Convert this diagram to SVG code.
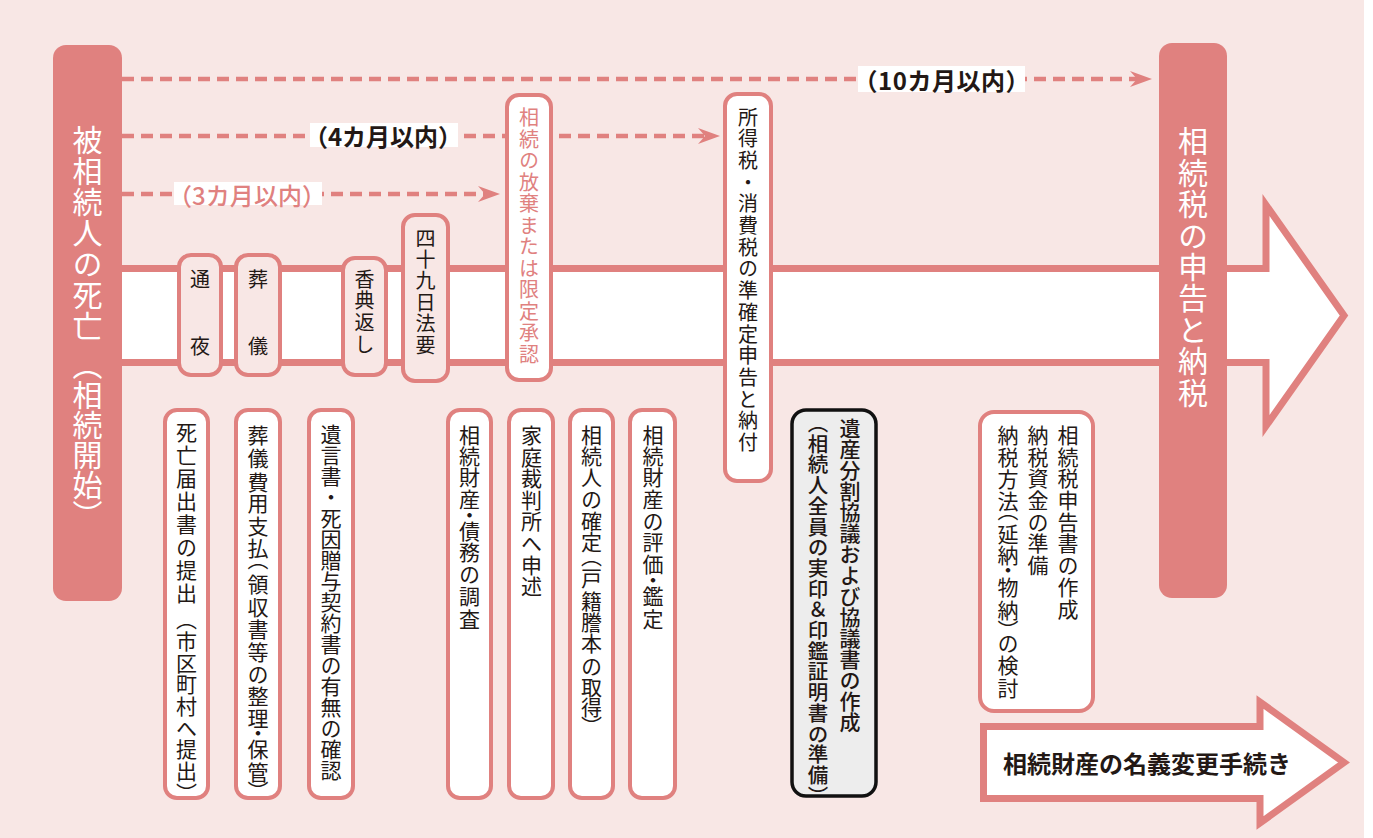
<svg xmlns="http://www.w3.org/2000/svg" width="1373" height="838" viewBox="0 0 1373 838">
<defs>
<style>
.bg{fill:#F8E7E5}
.pill{fill:#E0817F}
.band{fill:#FFFFFF;stroke:#E0817F;stroke-width:7;stroke-linejoin:miter}
.sbox{fill:#F8E7E5;stroke:#E0817F;stroke-width:4}
.wbox{fill:#FFFFFF;stroke:#E0817F;stroke-width:4}
.gbox{fill:#EDEDED;stroke:#111111;stroke-width:3.5}
.dash{fill:none;stroke:#E0817F;stroke-width:4.5;stroke-dasharray:12 7}
.lbl{fill:#FFFFFF}
.v{writing-mode:vertical-rl;font-family:"Noto Sans CJK JP","Noto Sans CJK SC",sans-serif;fill:#231815}
.h{font-family:"Noto Sans CJK JP","Noto Sans CJK SC",sans-serif;fill:#231815}
.wt{fill:#FFFFFF}
.pk{fill:#E0817F}
</style>
<marker id="ah" viewBox="0 0 22 16" refX="7" refY="8" markerWidth="22" markerHeight="16" markerUnits="userSpaceOnUse" orient="auto">
<path d="M0,0 L22,8 L0,16 L7,8 Z" fill="#E0817F"/>
</marker>
</defs>
<rect class="bg" x="0" y="0" width="1364" height="838"/>

<g id="timeline">
<path class="band" d="M100,268.5 H1266 V205 L1344,315.5 L1266,426 V362.5 H100 Z"/>
</g>

<g id="connectors">
<line class="dash" x1="122" y1="79" x2="1137" y2="79" marker-end="url(#ah)"/>
<line class="dash" x1="122" y1="136" x2="705" y2="136" marker-end="url(#ah)"/>
<line class="dash" x1="122" y1="194" x2="485" y2="194" marker-end="url(#ah)"/>
<rect class="lbl" x="858" y="66" width="167" height="26"/>
<text class="h" x="941.5" y="79" font-size="24" font-weight="bold" text-anchor="middle" dominant-baseline="central" textLength="176" lengthAdjust="spacing">（10カ月以内）</text>
<rect class="lbl" x="310" y="123" width="148" height="24"/>
<text class="h" x="383" y="135" font-size="24" font-weight="bold" text-anchor="middle" dominant-baseline="central" textLength="158" lengthAdjust="spacing">（4カ月以内）</text>
<rect class="lbl" x="174" y="182" width="148" height="23"/>
<text class="h pk" x="247" y="194" font-size="24" font-weight="500" text-anchor="middle" dominant-baseline="central" textLength="158" lengthAdjust="spacing">（3カ月以内）</text>
</g>

<g id="start">
<rect class="pill" x="53" y="45" width="69" height="556" rx="13"/>
<text class="v wt" x="87.5" y="124.5 155.5 186.5 217.5 248.5 279.5 310.5 350 380 410 440 470 500" font-size="30">被相続人の死亡（相続開始）</text>
</g>

<g id="end">
<rect class="pill" x="1159" y="43" width="68" height="555" rx="13"/>
<text class="v wt" x="1193" y="126" font-size="30" letter-spacing="1.4">相続税の申告と納税</text>
</g>

<g id="tsuya">
<rect class="sbox" x="179" y="255" width="42" height="120" rx="12"/>
<text class="v" x="200" y="269" font-size="20" letter-spacing="47">通夜</text>
</g>
<g id="sougi">
<rect class="sbox" x="236" y="255" width="44" height="120" rx="12"/>
<text class="v" x="258" y="269" font-size="20" letter-spacing="47">葬儀</text>
</g>
<g id="kouden">
<rect class="sbox" x="343" y="258" width="43" height="117" rx="12"/>
<text class="v" x="364.5" y="269" font-size="20" letter-spacing="1.7">香典返し</text>
</g>
<g id="shijuukunichi">
<rect class="sbox" x="403" y="215" width="45" height="166" rx="12"/>
<text class="v" x="425.5" y="228" font-size="20" letter-spacing="1.4">四十九日法要</text>
</g>
<g id="houki">
<rect class="wbox" x="507" y="95" width="44" height="285" rx="12"/>
<text class="v pk" x="529" y="107.5" font-size="20" letter-spacing="1.5">相続の放棄または限定承認</text>
</g>
<g id="junkakutei">
<rect class="wbox" x="725" y="94" width="46" height="387" rx="12"/>
<text class="v" x="748" y="107" font-size="20" letter-spacing="1.7">所得税・消費税の準確定申告と納付</text>
</g>

<g id="shibou">
<rect class="wbox" x="165" y="410" width="43" height="388" rx="12"/>
<text class="v" x="186.5" y="421.5" font-size="21" letter-spacing="2">死亡届出書の提出</text>
<text class="v" x="186.5" y="608.8" font-size="21" letter-spacing="0.7">（市区町村へ提出）</text>
</g>
<g id="sougihiyou">
<rect class="wbox" x="236" y="410" width="44" height="388" rx="12"/>
<text class="v" x="258" y="424.5 447.5 471.5 492.5 515.5 537.5 549 573.5 596.5 618.5 641.5 663.5 685.5 707.5 722.5 738.5 761.5 781" font-size="21">葬儀費用支払（領収書等の整理・保管）</text>
</g>
<g id="yuigon">
<rect class="wbox" x="309" y="410" width="44" height="388" rx="12"/>
<text class="v" x="331" y="423.5" font-size="21">遺言書・死因贈与契約書の有無の確認</text>
</g>
<g id="chousa">
<rect class="wbox" x="448" y="410" width="43" height="388" rx="12"/>
<text class="v" x="469.5" y="424.5 445.5 466.5 488.5 504.5 520.5 541.5 563.5 585.5 608.5" font-size="21">相続財産・債務の調査</text>
</g>
<g id="kasai">
<rect class="wbox" x="509" y="410" width="44" height="388" rx="12"/>
<text class="v" x="531.5" y="424.5" font-size="21" letter-spacing="0.6">家庭裁判所へ申述</text>
</g>
<g id="kakutei">
<rect class="wbox" x="570" y="410" width="43" height="388" rx="12"/>
<text class="v" x="591.5" y="424.5 445.5 466.5 488.5 510.5 531.5 546 567.5 590.5 611.5 632.5 655.5 676.5 696.5 716" font-size="21">相続人の確定（戸籍謄本の取得）</text>
</g>
<g id="hyouka">
<rect class="wbox" x="630" y="410" width="45" height="388" rx="12"/>
<text class="v" x="653" y="424.5 445.5 466.5 488.5 510.5 531.5 553.5 569.5 585.5 608.5" font-size="21">相続財産の評価・鑑定</text>
</g>
<g id="bunkatsu">
<rect class="gbox" x="792" y="410" width="84" height="386" rx="14"/>
<text class="v" x="850" y="417.5" font-size="21" font-weight="500">遺産分割協議および協議書の作成</text>
<text class="v" x="818" y="413" font-size="20.5" font-weight="500" letter-spacing="0.2">（相続人全員の実印＆印鑑証明書の準備）</text>
</g>
<g id="shinkoku">
<rect class="wbox" x="980" y="412" width="113" height="299" rx="14"/>
<text class="v" x="1068" y="424.5" font-size="21" letter-spacing="0.7">相続税申告書の作成</text>
<text class="v" x="1038" y="424.5" font-size="21" letter-spacing="0.7">納税資金の準備</text>
<text class="v" x="1008" y="424.5 446.5 468.5 490.5 500 523.5 544.5 559.5 576.5 599.5 620 632.5 654.5 677.5" font-size="21">納税方法（延納・物納）の検討</text>
</g>
<g id="meigi">
<path class="band" d="M983.5,726.5 H1260 V702 L1344,762.5 L1260,823 V798.5 H983.5 Z"/>
<text class="h" x="1003" y="762" font-size="24" font-weight="bold" dominant-baseline="central">相続財産の名義変更手続き</text>
</g>
</svg>
